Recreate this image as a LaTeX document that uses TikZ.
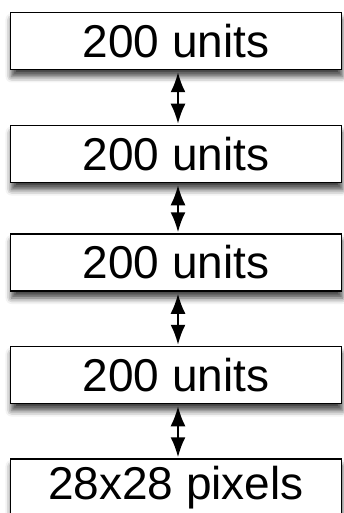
\documentclass[tikz,border=0pt]{standalone}
\usepackage{fontspec}
\setmainfont{Liberation Sans}
\usetikzlibrary{arrows.meta,shadows.blur}
\begin{document}
\begin{tikzpicture}[x=1pt,y=-1pt,
  layerbox/.style={draw=black,line width=1.5pt,fill=white,minimum width=331pt,minimum height=57pt,
    inner sep=0pt,font=\fontsize{46}{50}\selectfont,
    blur shadow={shadow xshift=1pt,shadow yshift=-7pt,shadow blur radius=6pt,shadow opacity=75}},
  link/.style={line width=2pt,{Latex[length=20pt 0,width=15pt 0]}-{Latex[length=20pt 0,width=15pt 0]},shorten <=2pt,shorten >=1pt}]
\useasboundingbox (0,0) rectangle (344,513);
\node[layerbox] (b1) at (176,41) {200 units};
\node[layerbox] (b2) at (176,154) {200 units};
\node[layerbox] (b3) at (176,262.5) {200 units};
\node[layerbox] (b4) at (176,375) {200 units};
\node[layerbox] (b5) at (176,487.5) {28x28 pixels};
\draw[link] ([xshift=2pt]b1.south) -- ([xshift=2pt]b2.north);
\draw[link] ([xshift=2pt]b2.south) -- ([xshift=2pt]b3.north);
\draw[link] ([xshift=2pt]b3.south) -- ([xshift=2pt]b4.north);
\draw[link] ([xshift=2pt]b4.south) -- ([xshift=2pt]b5.north);
\end{tikzpicture}
\end{document}
